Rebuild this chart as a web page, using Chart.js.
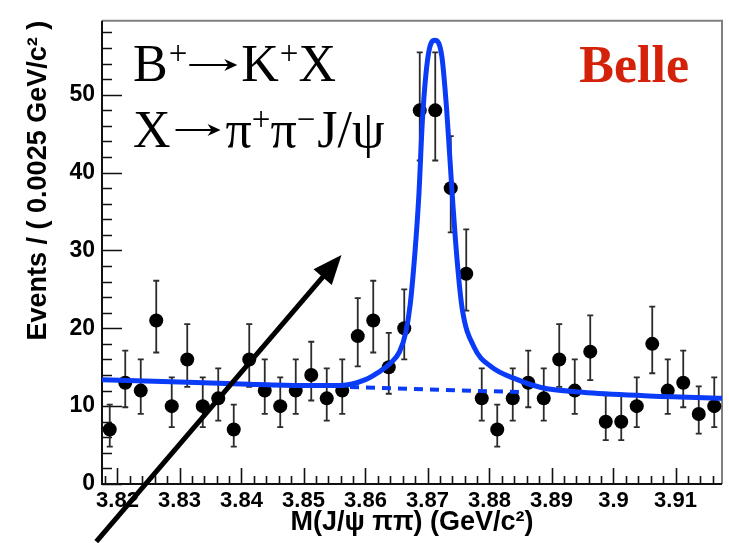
<!DOCTYPE html>
<html>
<head>
<meta charset="utf-8">
<title>Belle X(3872) mass plot</title>
<script src="https://cdn.jsdelivr.net/npm/chart.js@4.4.1/dist/chart.umd.min.js"></script>
<style>
  html, body { margin:0; padding:0; background:#fff; }
  #wrap { width:729px; height:543px; }
</style>
</head>
<body>
<div id="wrap"><canvas id="massChart" width="729" height="543"></canvas></div>
<script>
/* =============================================
   M(J/psi pi pi) spectrum
   ============================================= */

// bin centres (GeV/c^2), 0.0025 wide
const binCenters = [
  3.81875, 3.82125, 3.82375, 3.82625, 3.82875, 3.83125, 3.83375, 3.83625, 3.83875, 3.84125,
  3.84375, 3.84625, 3.84875, 3.85125, 3.85375, 3.85625, 3.85875, 3.86125, 3.86375, 3.86625,
  3.86875, 3.87125, 3.87375, 3.87625, 3.87875, 3.88125, 3.88375, 3.88625, 3.88875, 3.89125,
  3.89375, 3.89625, 3.89875, 3.90125, 3.90375, 3.90625, 3.90875, 3.91125, 3.91375, 3.91625
];
const counts = [
  7, 13, 12, 21, 10, 16, 10, 11, 7, 16,
  12, 10, 12, 14, 11, 12, 19, 21, 15, 20,
  48, 48, 38, 27, 11, 7, 11, 13, 11, 16,
  12, 17, 8, 8, 10, 18, 12, 13, 9, 10
];

// fitted curve (signal + background)
const fitX = [3.8175, 3.8300, 3.8400, 3.8500, 3.8560, 3.8600, 3.8620, 3.8640, 3.8655, 3.8665,
              3.8672, 3.8680, 3.8686, 3.8692, 3.8701, 3.8712, 3.8723, 3.8731, 3.8740, 3.8748,
              3.8756, 3.8775, 3.8802, 3.8845, 3.8883, 3.8950, 3.9050, 3.9175];
const fitY = [13.4, 13.1, 12.85, 12.65, 12.65, 13.4, 14.3, 15.5, 17.0, 19.5,
              23.0, 30.0, 37.0, 47.0, 55.0, 57.0, 55.0, 48.0, 37.0, 28.5,
              22.5, 17.6, 15.1, 13.4, 12.4, 11.8, 11.35, 11.0];

// background only (dashed, under the peak)
const bkgX = [3.8575, 3.8850];
const bkgY = [12.45, 11.8];

const xTicks = [3.82, 3.83, 3.84, 3.85, 3.86, 3.87, 3.88, 3.89, 3.90, 3.91];
const yTicks = [0, 10, 20, 30, 40, 50];

// the big black arrow (data units, tail is below the axis)
const arrowTail = { x: 3.81658, y: -7.4 };
const arrowTip  = { x: 3.85613, y: 29.4 };

const X_MIN = 3.8175, X_MAX = 3.9175, Y_MIN = 0, Y_MAX = 59.5;
const BLUE = '#0a3cf7';
const SANS = '"Liberation Sans", Arial, Helvetica, sans-serif';
const SERIF = '"Liberation Serif", "Times New Roman", Times, serif';

// asymmetric poisson errors like ROOT draws them
function poissonErr(n) {
  const s = Math.sqrt(n + 0.25);
  return [s - 0.5, s + 0.5];
}

// ─── frame + inward ticks (ROOT style) ──────
const frameTicks = {
  id: 'frameTicks',
  beforeDatasetsDraw(chart) {
    const { ctx, chartArea: a, scales: { x, y } } = chart;
    ctx.save();
    ctx.strokeStyle = '#808080'; ctx.lineWidth = 2;
    ctx.beginPath();
    ctx.moveTo(a.left, a.top); ctx.lineTo(a.right, a.top); ctx.lineTo(a.right, a.bottom);
    ctx.stroke();

    ctx.strokeStyle = '#111'; ctx.lineWidth = 2;
    ctx.beginPath();
    ctx.moveTo(a.left, a.top); ctx.lineTo(a.left, a.bottom); ctx.lineTo(a.right, a.bottom);
    ctx.stroke();

    ctx.lineWidth = 1.6;
    ctx.beginPath();
    for (let k = 0; k * 2 <= Y_MAX; k++) {
      const py = Math.round(y.getPixelForValue(k * 2)) + 0.5;
      const len = k % 5 === 0 ? 20 : 10;
      ctx.moveTo(a.left, py); ctx.lineTo(a.left + len, py);
    }
    for (let m = Math.ceil(X_MIN * 500); m <= Math.floor(X_MAX * 500); m++) {
      const px = Math.round(x.getPixelForValue(m / 500)) + 0.5;
      const len = m % 5 === 0 ? 16 : 8;
      ctx.moveTo(px, a.bottom); ctx.lineTo(px, a.bottom - len);
    }
    ctx.stroke();
    ctx.restore();
  }
};

// ─── error bars under the points ────────────
const errorBars = {
  id: 'errorBars',
  beforeDatasetsDraw(chart) {
    const { ctx, scales: { x, y } } = chart;
    ctx.save();
    ctx.strokeStyle = '#2b2b2b'; ctx.lineWidth = 1.8;
    ctx.beginPath();
    binCenters.forEach((c, i) => {
      const [lo, hi] = poissonErr(counts[i]);
      const px = x.getPixelForValue(c);
      const top = y.getPixelForValue(counts[i] + hi);
      const bot = y.getPixelForValue(Math.max(0, counts[i] - lo));
      ctx.moveTo(px, top); ctx.lineTo(px, bot);
      ctx.moveTo(px - 3, top); ctx.lineTo(px + 3, top);
      ctx.moveTo(px - 3, bot); ctx.lineTo(px + 3, bot);
    });
    ctx.stroke();
    ctx.restore();
  }
};

// text pieces; {arrow: w} draws a long "⟶" of width w
function drawRich(ctx, x, base, parts) {
  parts.forEach(p => {
    if (p.arrow) {
      const ay = base - p.rise;
      ctx.save();
      ctx.strokeStyle = '#000'; ctx.lineWidth = 2.2;
      ctx.beginPath(); ctx.moveTo(x + 2, ay); ctx.lineTo(x + p.arrow - 6, ay); ctx.stroke();
      ctx.beginPath();
      ctx.moveTo(x + p.arrow, ay);
      ctx.lineTo(x + p.arrow - 13, ay - 6);
      ctx.lineTo(x + p.arrow - 9, ay);
      ctx.lineTo(x + p.arrow - 13, ay + 6);
      ctx.closePath(); ctx.fill();
      ctx.restore();
      x += p.arrow + (p.gap || 0);
      return;
    }
    ctx.font = `${p.bold ? 'bold ' : ''}${p.size}px ${SERIF}`;
    ctx.fillText(p.t, x, base - (p.rise || 0));
    x += ctx.measureText(p.t).width + (p.gap || 0);
  });
}

// ─── labels + arrow on top ──────────────────
const overlay = {
  id: 'overlay',
  afterDraw(chart) {
    const { ctx, chartArea: a, scales: { x, y } } = chart;
    ctx.save();
    ctx.fillStyle = '#000';
    ctx.textBaseline = 'alphabetic';
    ctx.textAlign = 'left';
    drawRich(ctx, a.left + 31, 81, [
      { t: 'B', size: 52, gap: 1 }, { t: '+', size: 33, rise: 17 }, { arrow: 50, rise: 16, gap: 4 },
      { t: 'K', size: 52, gap: 1 }, { t: '+', size: 33, rise: 17 }, { t: 'X', size: 52 }
    ]);
    drawRich(ctx, a.left + 31, 147, [
      { t: 'X', size: 52, gap: 3 }, { arrow: 47, rise: 17, gap: 5 }, { t: '\u03c0', size: 52 },
      { t: '+', size: 33, rise: 17 }, { t: '\u03c0', size: 52 }, { t: '\u2212', size: 33, rise: 17, gap: 2 },
      { t: 'J/\u03c8', size: 52 }
    ]);

    ctx.fillStyle = '#d4220a';
    ctx.textAlign = 'right';
    ctx.font = `bold 52px ${SERIF}`;
    ctx.fillText('Belle', a.right - 33, 82);

    // arrow
    const x0 = x.getPixelForValue(arrowTail.x), y0 = y.getPixelForValue(arrowTail.y);
    const x1 = x.getPixelForValue(arrowTip.x),  y1 = y.getPixelForValue(arrowTip.y);
    const ang = Math.atan2(y1 - y0, x1 - x0);
    const headLen = 29, headW = 12;
    const bx = x1 - headLen * Math.cos(ang), by = y1 - headLen * Math.sin(ang);
    ctx.strokeStyle = '#000'; ctx.lineWidth = 5; ctx.lineCap = 'butt';
    ctx.beginPath(); ctx.moveTo(x0, y0); ctx.lineTo(bx + 2 * Math.cos(ang), by + 2 * Math.sin(ang)); ctx.stroke();
    ctx.fillStyle = '#000';
    ctx.beginPath();
    ctx.moveTo(x1, y1);
    ctx.lineTo(bx + headW * Math.sin(ang), by - headW * Math.cos(ang));
    ctx.lineTo(bx - headW * Math.sin(ang), by + headW * Math.cos(ang));
    ctx.closePath(); ctx.fill();
    ctx.restore();
  }
};

const ctx = document.getElementById('massChart').getContext('2d');
new Chart(ctx, {
  type: 'scatter',
  data: {
    datasets: [
      { label: 'fit', type: 'line', data: fitX.map((v, i) => ({ x: v, y: fitY[i] })),
        borderColor: BLUE, borderWidth: 5, pointRadius: 0, fill: false,
        cubicInterpolationMode: 'monotone', order: 0 },
      { label: 'background', type: 'line', data: bkgX.map((v, i) => ({ x: v, y: bkgY[i] })),
        borderColor: BLUE, borderWidth: 4, borderDash: [9, 7], pointRadius: 0, fill: false, order: 1 },
      { label: 'data', data: binCenters.map((v, i) => ({ x: v, y: counts[i] })),
        pointRadius: 7, pointBackgroundColor: '#000', pointBorderWidth: 0, order: 2 }
    ]
  },
  options: {
    responsive: false, animation: false, devicePixelRatio: 1,
    layout: { padding: { top: 8, right: 7, left: 0, bottom: 0 } },
    plugins: { legend: { display: false }, tooltip: { enabled: false } },
    scales: {
      x: {
        type: 'linear', min: X_MIN, max: X_MAX,
        grid: { display: false, drawTicks: false }, border: { display: false },
        afterBuildTicks: s => { s.ticks = xTicks.map(v => ({ value: v })); },
        afterFit: s => { s.height = 59; },
        ticks: { autoSkip: false, maxRotation: 0, padding: 4, color: '#000',
          font: { family: SANS, weight: 'bold', size: 22 },
          callback: v => String(+v.toFixed(2)) },
        title: { display: true, text: 'M(J/\u03c8 \u03c0\u03c0) (GeV/c\u00b2)', color: '#000',
          font: { family: SANS, weight: 'bold', size: 27 }, padding: { top: 0, bottom: 4 } }
      },
      y: {
        min: Y_MIN, max: Y_MAX,
        grid: { display: false, drawTicks: false }, border: { display: false },
        afterBuildTicks: s => { s.ticks = yTicks.map(v => ({ value: v })); },
        afterFit: s => { s.width = 102; },
        ticks: { padding: 7, color: '#000', font: { family: SANS, weight: 'bold', size: 23 } },
        title: { display: true, text: 'Events / ( 0.0025 GeV/c\u00b2 )', color: '#000', align: 'end',
          font: { family: SANS, weight: 'bold', size: 27 }, padding: { top: 22, bottom: 0 } }
      }
    }
  },
  plugins: [frameTicks, errorBars, overlay]
});
</script>
</body>
</html>
